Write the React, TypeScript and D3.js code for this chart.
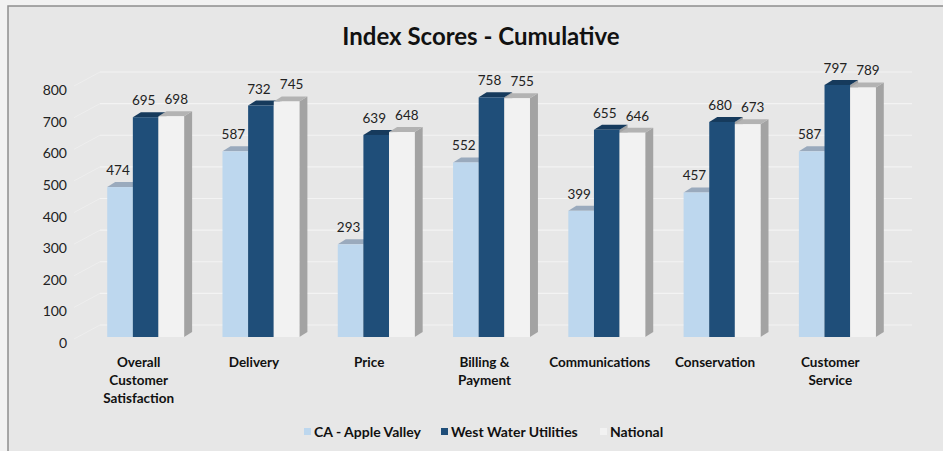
import React from "react";
import * as d3 from "d3";

const width = 943;
const height = 451;

const categories = [
  ["Overall", "Customer", "Satisfaction"],
  ["Delivery"],
  ["Price"],
  ["Billing &", "Payment"],
  ["Communications"],
  ["Conservation"],
  ["Customer", "Service"],
];
const seriesNames = ["CA - Apple Valley", "West Water Utilities", "National"];
const appleValley = [474, 587, 293, 552, 399, 457, 587];
const westWater = [695, 732, 639, 758, 655, 680, 797];
const national = [698, 745, 648, 755, 646, 673, 789];
const yTicks = [0, 100, 200, 300, 400, 500, 600, 700, 800];

const seriesValues = [appleValley, westWater, national];
const frontColors = ["#bdd7ee", "#1f4e79", "#f2f2f2"];
const topColors = ["#9aaabd", "#163a5c", "#b3b3b3"];
const sideColor = "#a3a3a3";
// labels are nudged apart a little, like Excel does
const labelShift = [-2, -2, 5];

const depthX = 8;
const depthY = 5;

const catKeys = categories.map((c) => c.join(" "));
const xScale = d3
  .scaleBand<string>()
  .domain(catKeys)
  .range([88, 895])
  .paddingInner(0.333)
  .paddingOuter(0.1667);
const sub = d3
  .scaleBand<number>()
  .domain([0, 1, 2])
  .range([0, xScale.bandwidth()]);
const yScale = d3.scaleLinear([0, 800], [337, 84]);

const font = "Lato, 'Open Sans', sans-serif";

const App = () => {
  const bars: React.ReactNode[] = [];
  catKeys.forEach((key, i) => {
    const gx = xScale(key)!;
    seriesValues.forEach((vals, s) => {
      const v = vals[i];
      const x = gx + sub(s)!;
      const w = sub.bandwidth();
      const y0 = yScale(0);
      const y1 = yScale(v);
      bars.push(
        <g key={`${i}-${s}`}>
          <polygon
            points={`${x + w},${y1} ${x + w + depthX},${y1 - depthY} ${x + w + depthX},${y0 - depthY} ${x + w},${y0}`}
            fill={sideColor}
          />
          <polygon
            points={`${x},${y1} ${x + w},${y1} ${x + w + depthX},${y1 - depthY} ${x + depthX},${y1 - depthY}`}
            fill={topColors[s]}
          />
          <rect x={x} y={y1} width={w} height={y0 - y1} fill={frontColors[s]} />
        </g>
      );
    });
  });

  const labels: React.ReactNode[] = [];
  catKeys.forEach((key, i) => {
    const gx = xScale(key)!;
    seriesValues.forEach((vals, s) => {
      const v = vals[i];
      labels.push(
        <text
          key={`l-${i}-${s}`}
          x={gx + sub(s)! + sub.bandwidth() / 2 + labelShift[s]}
          y={yScale(v) - 12}
          textAnchor="middle"
          fontSize={13.5}
          fill="#222"
        >
          {v}
        </text>
      );
    });
  });

  return (
    <svg
      width={width}
      height={height}
      style={{ position: "absolute", left: 0, top: 0, fontFamily: font }}
    >
      <rect x={0} y={0} width={width} height={height} fill="#f2f2f2" />
      <rect x={8} y={6} width={width + 10} height={height + 10} fill="#e7e7e7" stroke="#8f8f8f" strokeWidth={1.5} />

      <text x={481} y={45} textAnchor="middle" fontSize={24} fontWeight="bold" fill="#111">
        Index Scores - Cumulative
      </text>

      {yTicks.map((t) => (
        <g key={t}>
          <line x1={100} x2={912} y1={yScale(t) - 12} y2={yScale(t) - 12} stroke="#f3f3f3" strokeWidth={1.2} />
          <line x1={74} x2={100} y1={yScale(t) + 2} y2={yScale(t) - 12} stroke="#eeeeee" strokeWidth={1} />
          <text x={67} y={yScale(t) + 11} textAnchor="end" fontSize={14} fill="#222">
            {t}
          </text>
        </g>
      ))}

      {bars}
      {labels}

      {categories.map((lines, i) => (
        <text
          key={catKeys[i]}
          x={xScale(catKeys[i])! + xScale.bandwidth() / 2 - 7}
          y={367}
          textAnchor="middle"
          fontSize={13.5}
          fontWeight="bold"
          fill="#111"
        >
          {lines.map((ln, j) => (
            <tspan key={j} x={xScale(catKeys[i])! + xScale.bandwidth() / 2 - 7} dy={j === 0 ? 0 : 18}>
              {ln}
            </tspan>
          ))}
        </text>
      ))}

      {seriesNames.map((name, s) => {
        const lx = [304, 441, 600][s];
        return (
          <g key={name}>
            <rect x={lx} y={428} width={7} height={7} fill={frontColors[s]} />
            <text x={lx + 10} y={437} fontSize={14} fontWeight="bold" fill="#111">
              {name}
            </text>
          </g>
        );
      })}
    </svg>
  );
};

export default App;
